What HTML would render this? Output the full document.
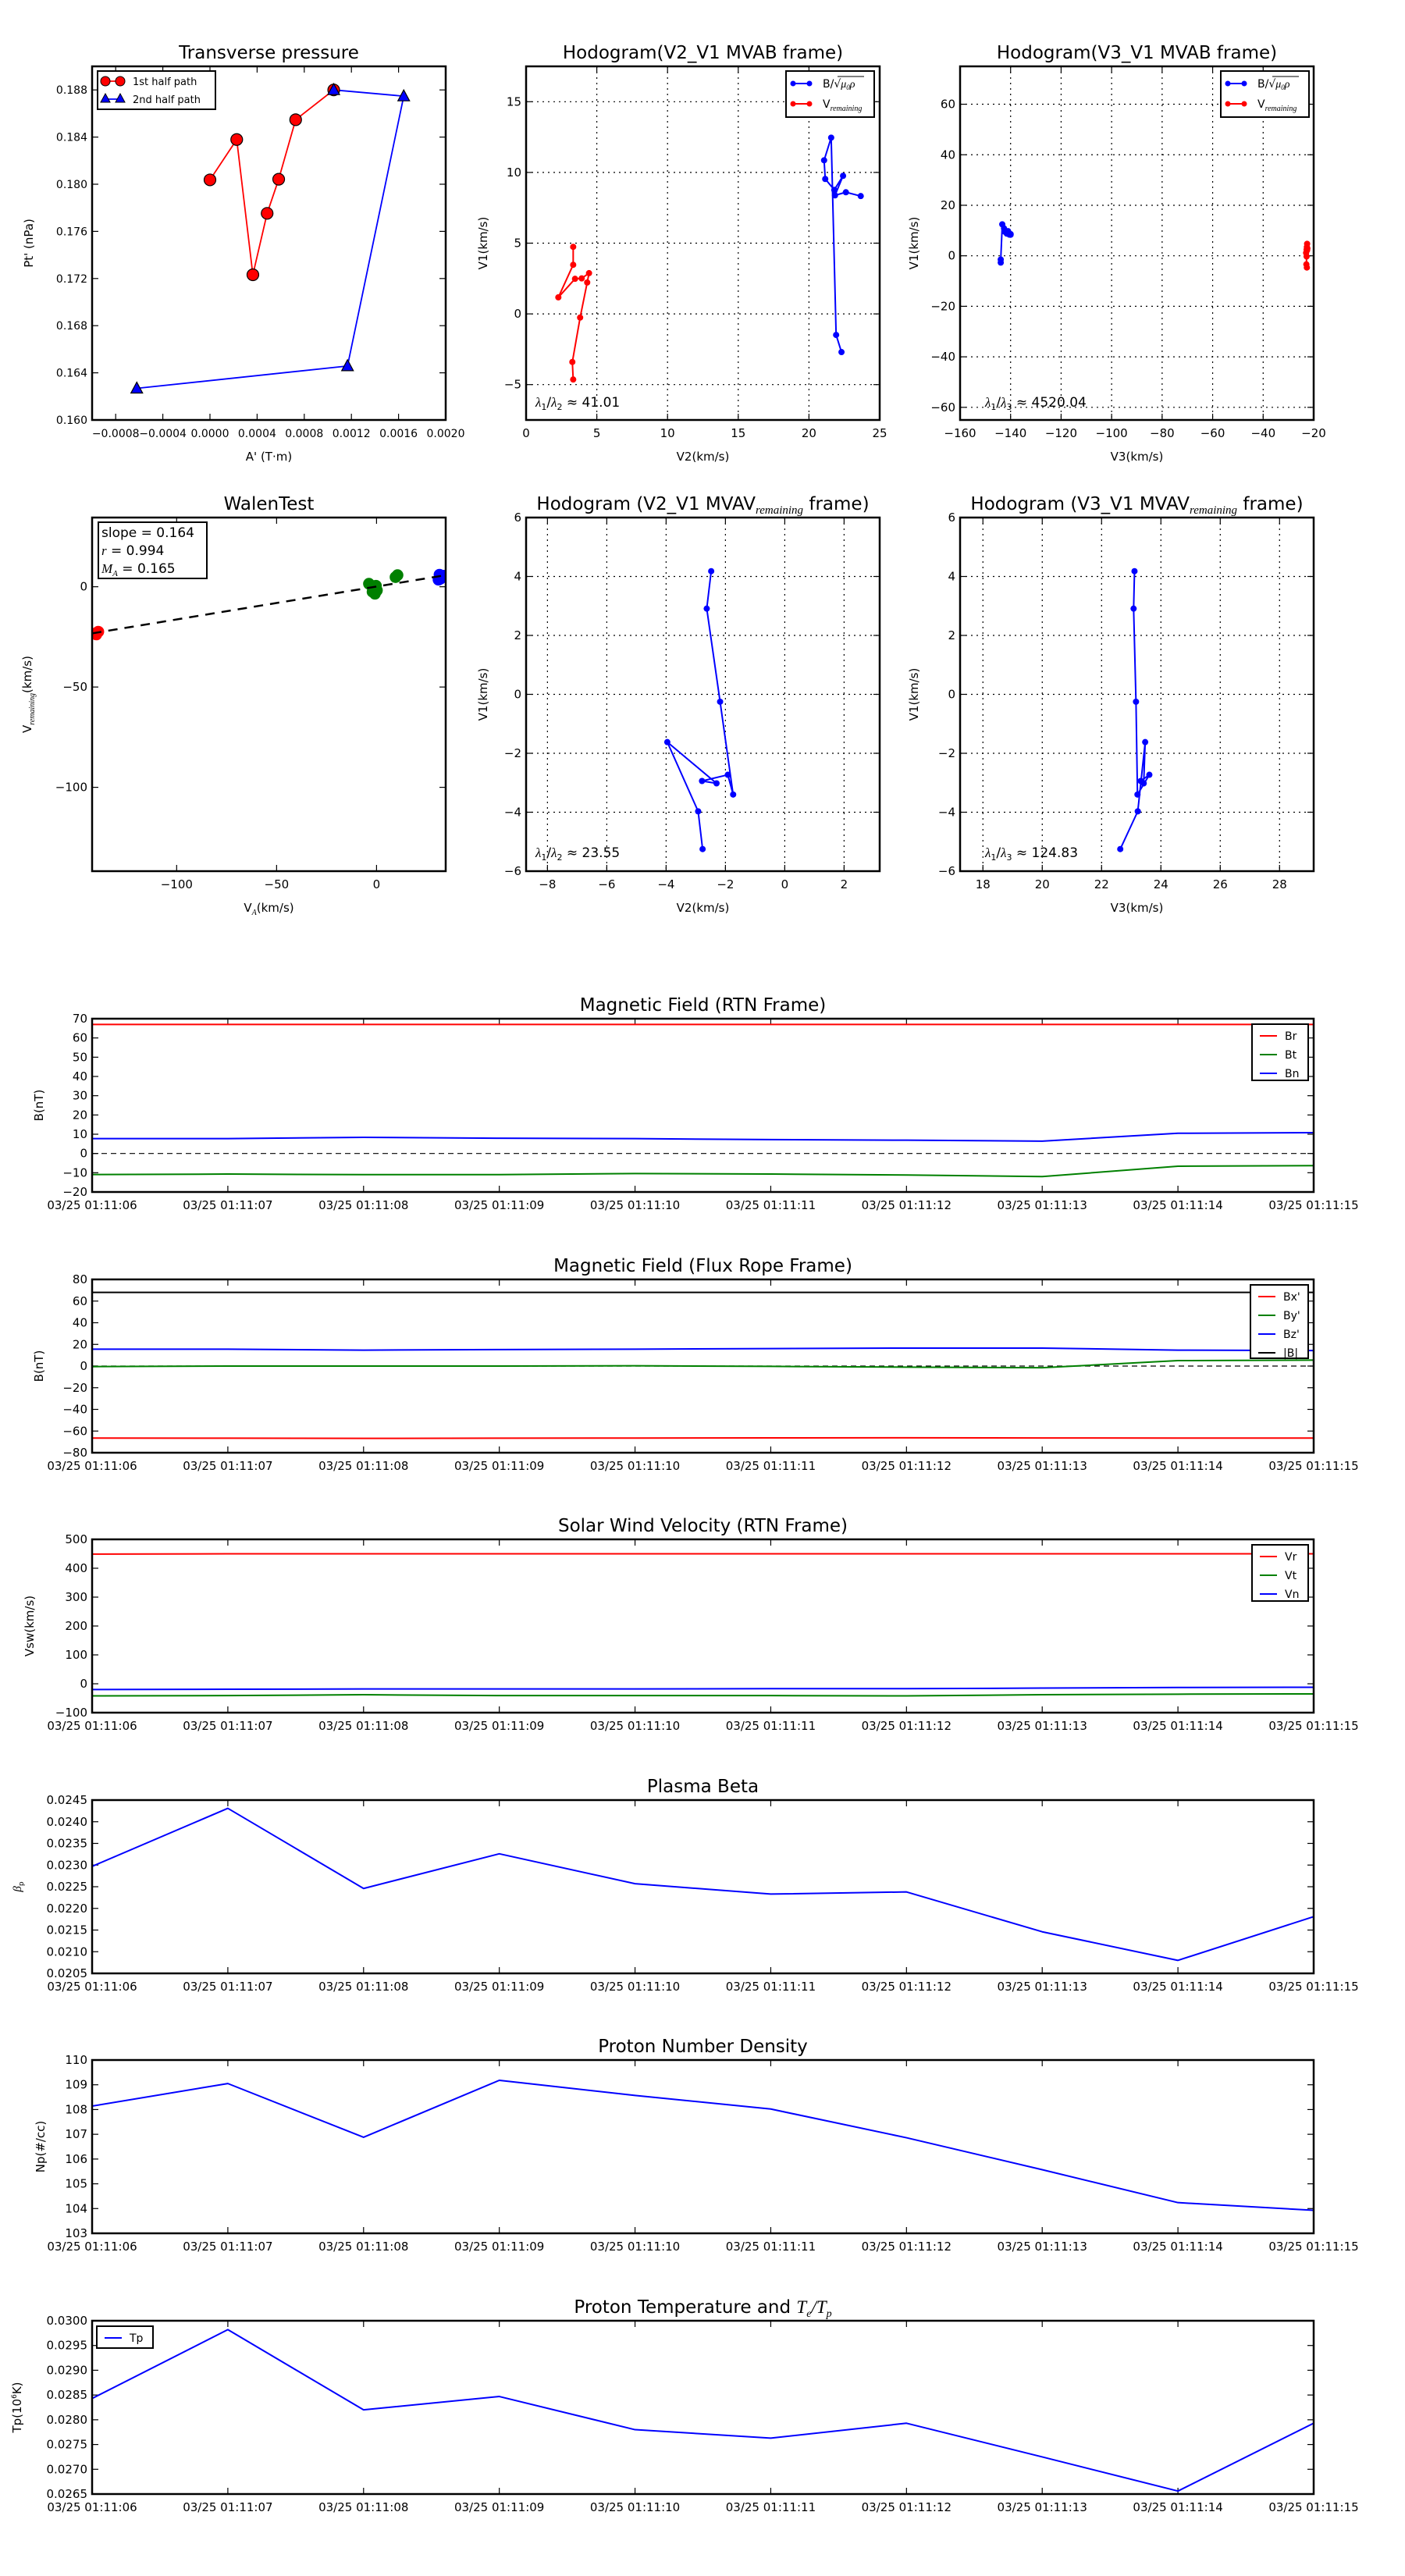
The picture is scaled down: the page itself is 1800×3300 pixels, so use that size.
<!DOCTYPE html>
<html><head><meta charset="utf-8"><title>Flux rope analysis</title>
<style>
html,body{margin:0;padding:0;background:#fff;}
svg{display:block;font-family:"DejaVu Sans","Liberation Sans",sans-serif;}
</style></head>
<body>
<svg id="fig" width="1800" height="3300" viewBox="0 0 1800 3300" xmlns="http://www.w3.org/2000/svg"></svg>
<script>
// ---------- DATA ----------
const ptRedA = [0, 0.000227, 0.000364, 0.000485, 0.000583, 0.000727, 0.00105];
const ptRedP = [0.18037, 0.18379, 0.17232, 0.17753, 0.18042, 0.18547, 0.18800];
const ptBlueA = [0.00105, 0.001644, 0.001167, -0.000621];
const ptBlueP = [0.18800, 0.18747, 0.16458, 0.16268];

const h1BV2 = [22.30, 21.92, 21.57, 21.07, 21.15, 21.79, 22.41, 21.84, 22.61, 23.66];
const h1BV1 = [-2.70, -1.49, 12.46, 10.86, 9.54, 8.77, 9.76, 8.38, 8.60, 8.33];
const h1RV2 = [3.33, 3.33, 2.28, 3.46, 3.93, 4.45, 4.32, 3.82, 3.27, 3.33];
const h1RV1 = [4.74, 3.47, 1.17, 2.48, 2.51, 2.88, 2.22, -0.26, -3.40, -4.64];

const h2BV3 = [-143.9, -143.9, -143.3, -142.6, -142.3, -141.5, -141.0, -140.5, -140.0, -140.0];
const h2RV3 = [-22.6, -22.7, -23.0, -22.8, -22.7, -22.5, -22.6, -22.8, -22.9, -22.7];

const walenRedX = [-139.8, -140.5, -139.2, -140.2];
const walenRedY = [-22.9, -23.2, -22.4, -23.8];
const walenGreenX = [-3.8, -2.5, -1.5, -0.8, -0.3, 0.2, -2.0, 9.5, 10.5];
const walenGreenY = [1.5, 0.5, -1.5, -3.5, 0.5, -1.8, -2.5, 4.8, 5.8];
const walenBlueX = [31, 31.5, 32.5, 33.5, 32];
const walenBlueY = [3.5, 6, 5, 5.5, 4];
const walenSlope = 0.164, walenIntercept = 0.1;

const h3V2 = [-2.48, -2.63, -2.18, -1.74, -1.92, -2.79, -2.30, -3.96, -2.92, -2.77];
const h3V1 = [4.18, 2.91, -0.25, -3.40, -2.73, -2.94, -3.02, -1.62, -3.97, -5.25];
const h4V3 = [23.11, 23.08, 23.16, 23.21, 23.61, 23.32, 23.42, 23.47, 23.22, 22.63];

const timeLabels = ["03/25 01:11:06","03/25 01:11:07","03/25 01:11:08","03/25 01:11:09","03/25 01:11:10","03/25 01:11:11","03/25 01:11:12","03/25 01:11:13","03/25 01:11:14","03/25 01:11:15"];
const Br = [67, 67, 67, 67, 67, 67, 67, 67, 67, 67];
const Bt = [-10.95, -10.7, -11, -11, -10.4, -10.7, -11.2, -12, -6.6, -6.3];
const Bn = [7.7, 7.7, 8.4, 7.9, 7.7, 7.2, 6.9, 6.4, 10.5, 10.8];
const Bx = [-66.5, -66.6, -66.8, -66.6, -66.5, -66.3, -66.2, -66.4, -66.5, -66.5];
const By = [-0.5, 0, 0, 0, 0.3, -0.3, -1, -1.5, 5, 5.5];
const Bz = [15.6, 15.6, 14.7, 15.2, 15.6, 16.1, 16.6, 16.6, 14.7, 14.3];
const Bmag = [68, 68, 68, 68, 68, 68, 68, 68, 68, 68];
const Vr = [449, 450, 450, 450, 450, 450, 450, 450, 450, 450];
const Vt = [-42, -41, -38, -41, -41, -41, -42, -38, -36, -35];
const Vn = [-20, -19, -18, -18, -18, -17, -17, -15, -13, -12];
const beta = [0.02297, 0.02431, 0.02246, 0.02326, 0.02257, 0.02233, 0.02238, 0.02146, 0.02080, 0.02181];
const Np = [108.14, 109.05, 106.88, 109.18, 108.57, 108.02, 106.86, 105.57, 104.24, 103.93];
const Tp = [0.02843, 0.02982, 0.02820, 0.02847, 0.02780, 0.02763, 0.02793, 0.02725, 0.02656, 0.02793];

// ---------- HELPERS ----------
const NS = 'http://www.w3.org/2000/svg';
const svg = document.getElementById('fig');
const TICK_FS = 15;
function mk(tag, attrs, parent) {
  const e = document.createElementNS(NS, tag);
  for (const k in attrs) e.setAttribute(k, attrs[k]);
  (parent || svg).appendChild(e);
  return e;
}
function fmt(v, d) { const s = Math.abs(v) < 1e-12 ? (0).toFixed(d) : v.toFixed(d); return s.replace('-', '\u2212'); }
function range(a, b, s) { const r = []; for (let v = a; v <= b + s * 1e-6; v += s) r.push(Math.round(v / s) * s); return r; }

function makeAxes(name, L, T, W, H, xmin, xmax, ymin, ymax) {
  const g = mk('g', {});
  
  
  const ax = { g, L, T, W, H,
    sx: v => L + (v - xmin) / (xmax - xmin) * W,
    sy: v => T + H - (v - ymin) / (ymax - ymin) * H };
  return ax;
}
function drawTicks(ax, xt, xl, yt, yl, grid, fs) {
  fs = fs || TICK_FS;
  const g = ax.g;
  xt.forEach((v, i) => {
    const x = ax.sx(v);
    if (x < ax.L - 0.5 || x > ax.L + ax.W + 0.5) return;
    if (grid) mk('line', {x1: x, x2: x, y1: ax.T, y2: ax.T + ax.H, stroke: '#000', 'stroke-width': 1.2, 'stroke-dasharray': '2,5'}, g);
    mk('line', {x1: x, x2: x, y1: ax.T + ax.H, y2: ax.T + ax.H - 8, stroke: '#000', 'stroke-width': 1.2}, g);
    mk('line', {x1: x, x2: x, y1: ax.T, y2: ax.T + 8, stroke: '#000', 'stroke-width': 1.2}, g);
    const t = mk('text', {x: x, y: ax.T + ax.H + 22, 'text-anchor': 'middle', 'font-size': fs}, g);
    
    
    t.textContent = xl[i];
  });
  yt.forEach((v, i) => {
    const y = ax.sy(v);
    if (y < ax.T - 0.5 || y > ax.T + ax.H + 0.5) return;
    if (grid) mk('line', {x1: ax.L, x2: ax.L + ax.W, y1: y, y2: y, stroke: '#000', 'stroke-width': 1.2, 'stroke-dasharray': '2,5'}, g);
    mk('line', {x1: ax.L, x2: ax.L + 8, y1: y, y2: y, stroke: '#000', 'stroke-width': 1.2}, g);
    mk('line', {x1: ax.L + ax.W, x2: ax.L + ax.W - 8, y1: y, y2: y, stroke: '#000', 'stroke-width': 1.2}, g);
    const t = mk('text', {x: ax.L - 6, y: y + 5, 'text-anchor': 'end', 'font-size': fs}, g);
    
    
    t.textContent = yl[i];
  });
}
function frame(ax) {
  const r = mk('rect', {x: ax.L, y: ax.T, width: ax.W, height: ax.H, fill: 'none', stroke: '#000', 'stroke-width': 2.5}, ax.g);
  
  
}
function title(ax, txt) {
  const t = mk('text', {x: ax.L + ax.W / 2, y: ax.T - 10, 'text-anchor': 'middle', 'font-size': 23}, ax.g);
  
  
  t.innerHTML = txt;
  return t;
}
function ylabel(ax, x, txt) {
  const cy = ax.T + ax.H / 2;
  const t = mk('text', {x: x, y: cy, 'text-anchor': 'middle', 'font-size': 15, transform: `rotate(-90 ${x} ${cy})`}, ax.g);
  
  
  t.innerHTML = txt;
}
function xlabel(ax, txt) {
  const t = mk('text', {x: ax.L + ax.W / 2, y: ax.T + ax.H + 52, 'text-anchor': 'middle', 'font-size': 15}, ax.g);
  
  
  t.innerHTML = txt;
}
function clip(ax, id) {
  const cp = mk('clipPath', {id: id}, ax.g);
  mk('rect', {x: ax.L, y: ax.T, width: ax.W, height: ax.H}, cp);
  return mk('g', {'clip-path': `url(#${id})`}, ax.g);
}
function series(parent, ax, xs, ys, color, w, dash) {
  const d = xs.map((x, i) => (i ? 'L' : 'M') + ax.sx(x).toFixed(2) + ',' + ax.sy(ys[i]).toFixed(2)).join(' ');
  const p = mk('path', {d: d, fill: 'none', stroke: color, 'stroke-width': w || 2, 'stroke-linejoin': 'round'}, parent);
  if (dash) p.setAttribute('stroke-dasharray', dash);
  return p;
}
function dots(parent, ax, xs, ys, color, r, stroke) {
  xs.forEach((x, i) => {
    const c = mk('circle', {cx: ax.sx(x), cy: ax.sy(ys[i]), r: r, fill: color, stroke: stroke || color, 'stroke-width': stroke ? 1.2 : 0}, parent);
    
    
  });
}
function legendBox(parent, x, y, w, h) {
  return mk('rect', {x: x, y: y, width: w, height: h, fill: '#fff', stroke: '#000', 'stroke-width': 2}, parent);
}
const idx = [0,1,2,3,4,5,6,7,8,9];

// ---------- ROW 1 ----------
(function(){
  const ax = makeAxes('transverse-pressure-chart', 118, 85, 453, 453, -0.001, 0.002, 0.160, 0.190);
  const xt = range(-0.0008, 0.0020, 0.0004);
  const yt = range(0.160, 0.188, 0.004);
  drawTicks(ax, xt, xt.map(v => fmt(v, 4)), yt, yt.map(v => fmt(v, 3)), false, 14);
  const c = clip(ax, 'c1');
  const lr = series(c, ax, ptRedA, ptRedP, '#f00', 1.8);
  
  const lb = series(c, ax, ptBlueA, ptBlueP, '#00f', 1.8);
  
  dots(c, ax, ptRedA, ptRedP, '#f00', 7.5, '#000');
  ptBlueA.forEach((a, i) => {
    const x = ax.sx(a), y = ax.sy(ptBlueP[i]);
    const t = mk('polygon', {points: `${x},${y-8} ${x-7.5},${y+6} ${x+7.5},${y+6}`, fill: '#00f', stroke: '#000', 'stroke-width': 1.2}, c);
    
    
  });
  frame(ax);
  title(ax, 'Transverse pressure');
  ylabel(ax, 42, "Pt' (nPa)");
  xlabel(ax, "A' (T·m)");
  const lg = mk('g', {}, ax.g);
  
  
  legendBox(lg, 125, 91, 151, 49);
  mk('line', {x1: 134, x2: 155, y1: 104, y2: 104, stroke: '#f00', 'stroke-width': 1.8}, lg);
  mk('circle', {cx: 135, cy: 104, r: 6, fill: '#f00', stroke: '#000'}, lg);
  mk('circle', {cx: 154, cy: 104, r: 6, fill: '#f00', stroke: '#000'}, lg);
  const t1 = mk('text', {x: 170, y: 109, 'font-size': 13}, lg); t1.textContent = '1st half path';
  mk('line', {x1: 134, x2: 155, y1: 127, y2: 127, stroke: '#00f', 'stroke-width': 1.8}, lg);
  mk('polygon', {points: '135,120 129,131 141,131', fill: '#00f', stroke: '#000'}, lg);
  mk('polygon', {points: '154,120 148,131 160,131', fill: '#00f', stroke: '#000'}, lg);
  const t2 = mk('text', {x: 170, y: 132, 'font-size': 13}, lg); t2.textContent = '2nd half path';
})();

function hodoLegend(ax, x, y, w) {
  const lg = mk('g', {}, ax.g);
  
  
  legendBox(lg, x, y, w, 59);
  mk('line', {x1: x+8, x2: x+31, y1: y+16, y2: y+16, stroke: '#00f', 'stroke-width': 2}, lg);
  mk('circle', {cx: x+9, cy: y+16, r: 3.5, fill: '#00f'}, lg);
  mk('circle', {cx: x+30, cy: y+16, r: 3.5, fill: '#00f'}, lg);
  const t1 = mk('text', {x: x+47, y: y+21, 'font-size': 14}, lg);
  t1.innerHTML = 'B/√<tspan font-family="Liberation Serif" font-style="italic">μ<tspan font-size="9" dy="3">0</tspan><tspan dy="-3">ρ</tspan></tspan>';
  mk('line', {x1: x+66, x2: x+100, y1: y+7, y2: y+7, stroke: '#000', 'stroke-width': 1}, lg);
  mk('line', {x1: x+8, x2: x+31, y1: y+42, y2: y+42, stroke: '#f00', 'stroke-width': 2}, lg);
  mk('circle', {cx: x+9, cy: y+42, r: 3.5, fill: '#f00'}, lg);
  mk('circle', {cx: x+30, cy: y+42, r: 3.5, fill: '#f00'}, lg);
  const t2 = mk('text', {x: x+47, y: y+47, 'font-size': 14}, lg);
  t2.innerHTML = 'V<tspan font-family="Liberation Serif" font-style="italic" font-size="10" dy="4">remaining</tspan>';
}
function ratioText(ax, x, y, sub, val) {
  const t = mk('text', {x: x, y: y, 'font-size': 17}, ax.g);
  
  
  t.innerHTML = `<tspan font-family="Liberation Serif" font-style="italic">λ</tspan><tspan font-size="11" dy="4">1</tspan><tspan dy="-4">/</tspan><tspan font-family="Liberation Serif" font-style="italic">λ</tspan><tspan font-size="11" dy="4">${sub}</tspan><tspan dy="-4"> ≈ ${val}</tspan>`;
}

(function(){
  const ax = makeAxes('hodogram-v2-v1-mvab-chart', 674, 85, 453, 453, 0, 25, -7.5, 17.5);
  const xt = range(0, 25, 5), yt = range(-5, 15, 5);
  drawTicks(ax, xt, xt.map(v => fmt(v, 0)), yt, yt.map(v => fmt(v, 0)), true);
  const c = clip(ax, 'c2');
  const b = series(c, ax, h1BV2, h1BV1, '#00f', 2);
  
  dots(c, ax, h1BV2, h1BV1, '#00f', 4);
  const r = series(c, ax, h1RV2, h1RV1, '#f00', 2);
  
  dots(c, ax, h1RV2, h1RV1, '#f00', 4);
  frame(ax);
  title(ax, 'Hodogram(V2_V1 MVAB frame)');
  ylabel(ax, 624, 'V1(km/s)');
  xlabel(ax, 'V2(km/s)');
  hodoLegend(ax, 1007, 91, 113);
  ratioText(ax, 686, 521, '2', '41.01');
})();

(function(){
  const ax = makeAxes('hodogram-v3-v1-mvab-chart', 1230, 85, 453, 453, -160, -20, -65, 75);
  const xt = range(-160, -20, 20), yt = range(-60, 60, 20);
  drawTicks(ax, xt, xt.map(v => fmt(v, 0)), yt, yt.map(v => fmt(v, 0)), true);
  const c = clip(ax, 'c3');
  const b = series(c, ax, h2BV3, h1BV1, '#00f', 2);
  
  dots(c, ax, h2BV3, h1BV1, '#00f', 4);
  const r = series(c, ax, h2RV3, h1RV1, '#f00', 2);
  
  dots(c, ax, h2RV3, h1RV1, '#f00', 4);
  frame(ax);
  title(ax, 'Hodogram(V3_V1 MVAB frame)');
  ylabel(ax, 1176, 'V1(km/s)');
  xlabel(ax, 'V3(km/s)');
  hodoLegend(ax, 1564, 91, 113);
  ratioText(ax, 1262, 521, '3', '4520.04');
})();

// ---------- ROW 2 ----------
(function(){
  const ax = makeAxes('walen-test-chart', 118, 663, 453, 453, -142.3, 34.6, -141.8, 34.5);
  const xt = [-100, -50, 0], yt = [-100, -50, 0];
  drawTicks(ax, xt, xt.map(v => fmt(v, 0)), yt, yt.map(v => fmt(v, 0)), false);
  const c = clip(ax, 'c4');
  dots(c, ax, walenRedX, walenRedY, '#f00', 7.5);
  dots(c, ax, walenGreenX, walenGreenY, '#008000', 7.5);
  dots(c, ax, walenBlueX, walenBlueY, '#00f', 7.5);
  const fx = [-142.3, 34.6];
  const fy = fx.map(v => walenSlope * v + walenIntercept);
  const f = series(c, ax, fx, fy, '#000', 2.5, '12,9');
  
  frame(ax);
  title(ax, 'WalenTest');
  ylabel(ax, 40, 'V<tspan font-family="Liberation Serif" font-style="italic" font-size="10" dy="4">remaining</tspan><tspan dy="-4">(km/s)</tspan>');
  xlabel(ax, 'V<tspan font-family="Liberation Serif" font-style="italic" font-size="10" dy="4">A</tspan><tspan dy="-4">(km/s)</tspan>');
  const lg = mk('g', {}, ax.g);
  
  
  legendBox(lg, 126, 669, 139, 72);
  const a = mk('text', {x: 130, y: 688, 'font-size': 17}, lg); a.textContent = 'slope = 0.164';
  const b = mk('text', {x: 130, y: 711, 'font-size': 17}, lg); b.innerHTML = '<tspan font-family="Liberation Serif" font-style="italic">r</tspan> = 0.994';
  const d = mk('text', {x: 130, y: 734, 'font-size': 17}, lg); d.innerHTML = '<tspan font-family="Liberation Serif" font-style="italic">M</tspan><tspan font-family="Liberation Serif" font-style="italic" font-size="11" dy="4">A</tspan><tspan dy="-4"> = 0.165</tspan>';
})();

(function(){
  const ax = makeAxes('hodogram-v2-v1-mvav-chart', 674, 663, 453, 453, -8.72, 3.2, -6, 6);
  const xt = range(-8, 2, 2), yt = range(-6, 6, 2);
  drawTicks(ax, xt, xt.map(v => fmt(v, 0)), yt, yt.map(v => fmt(v, 0)), true);
  const c = clip(ax, 'c5');
  const s = series(c, ax, h3V2, h3V1, '#00f', 2);
  
  dots(c, ax, h3V2, h3V1, '#00f', 4);
  frame(ax);
  title(ax, 'Hodogram (V2_V1 MVAV<tspan font-family="Liberation Serif" font-style="italic" font-size="15" dy="5">remaining</tspan><tspan dy="-5"> frame)</tspan>');
  ylabel(ax, 624, 'V1(km/s)');
  xlabel(ax, 'V2(km/s)');
  ratioText(ax, 686, 1098, '2', '23.55');
})();

(function(){
  const ax = makeAxes('hodogram-v3-v1-mvav-chart', 1230, 663, 453, 453, 17.23, 29.15, -6, 6);
  const xt = range(18, 28, 2), yt = range(-6, 6, 2);
  drawTicks(ax, xt, xt.map(v => fmt(v, 0)), yt, yt.map(v => fmt(v, 0)), true);
  const c = clip(ax, 'c6');
  const s = series(c, ax, h4V3, h3V1, '#00f', 2);
  
  dots(c, ax, h4V3, h3V1, '#00f', 4);
  frame(ax);
  title(ax, 'Hodogram (V3_V1 MVAV<tspan font-family="Liberation Serif" font-style="italic" font-size="15" dy="5">remaining</tspan><tspan dy="-5"> frame)</tspan>');
  ylabel(ax, 1176, 'V1(km/s)');
  xlabel(ax, 'V3(km/s)');
  ratioText(ax, 1262, 1098, '3', '124.83');
})();

// ---------- TIME SERIES ----------
function tsPanel(name, top, ymin, ymax, ystep, ydec, ttl, ylab, ylx, seriesList, legend, zeroLine) {
  const ax = makeAxes(name, 118, top, 1565, 222, 0, 9, ymin, ymax);
  const yt = range(ymin, ymax, ystep);
  drawTicks(ax, idx, timeLabels, yt, yt.map(v => fmt(v, ydec)), false);
  const c = clip(ax, 'c' + name);
  if (zeroLine) {
    const z = series(c, ax, [0, 9], [0, 0], '#000', 1.2, '7,5');
    
  }
  seriesList.forEach(s => {
    const p = series(c, ax, idx, s.v, s.c, 2);
    
    
  });
  frame(ax);
  title(ax, ttl);
  ylabel(ax, ylx, ylab);
  if (legend) {
    const lg = mk('g', {}, ax.g);
    
    
    legendBox(lg, legend.x, legend.y, legend.w, legend.h);
    seriesList.forEach((s, i) => {
      const y = legend.y + 15 + i * 24;
      mk('line', {x1: legend.x + 10, x2: legend.x + 32, y1: y, y2: y, stroke: s.c, 'stroke-width': 2}, lg);
      const t = mk('text', {x: legend.x + 42, y: y + 5, 'font-size': 14}, lg);
      t.textContent = s.label;
    });
  }
}

tsPanel('magnetic-field-rtn-chart', 1305, -20, 70, 10, 0, 'Magnetic Field (RTN Frame)', 'B(nT)', 55,
  [{v: Br, c: '#f00', n: 'br-line', label: 'Br'}, {v: Bt, c: '#008000', n: 'bt-line', label: 'Bt'}, {v: Bn, c: '#00f', n: 'bn-line', label: 'Bn'}],
  {x: 1604, y: 1312, w: 72, h: 72}, true);
tsPanel('magnetic-field-flux-rope-chart', 1639, -80, 80, 20, 0, 'Magnetic Field (Flux Rope Frame)', 'B(nT)', 55,
  [{v: Bx, c: '#f00', n: 'bx-line', label: "Bx'"}, {v: By, c: '#008000', n: 'by-line', label: "By'"}, {v: Bz, c: '#00f', n: 'bz-line', label: "Bz'"}, {v: Bmag, c: '#000', n: 'bmag-line', label: '|B|'}],
  {x: 1602, y: 1646, w: 74, h: 94}, true);
tsPanel('solar-wind-velocity-chart', 1972, -100, 500, 100, 0, 'Solar Wind Velocity (RTN Frame)', 'Vsw(km/s)', 43,
  [{v: Vr, c: '#f00', n: 'vr-line', label: 'Vr'}, {v: Vt, c: '#008000', n: 'vt-line', label: 'Vt'}, {v: Vn, c: '#00f', n: 'vn-line', label: 'Vn'}],
  {x: 1604, y: 1979, w: 72, h: 72}, false);
tsPanel('plasma-beta-chart', 2306, 0.0205, 0.0245, 0.0005, 4, 'Plasma Beta',
  '<tspan font-family="Liberation Serif" font-style="italic">β</tspan><tspan font-size="9" dy="3">p</tspan>', 27,
  [{v: beta, c: '#00f', n: 'beta-line', label: 'beta'}], null, false);
tsPanel('proton-density-chart', 2639, 103, 110, 1, 0, 'Proton Number Density', 'Np(#/cc)', 57,
  [{v: Np, c: '#00f', n: 'np-line', label: 'Np'}], null, false);
tsPanel('proton-temperature-chart', 2973, 0.0265, 0.0300, 0.0005, 4,
  'Proton Temperature and <tspan font-family="Liberation Serif" font-style="italic">T</tspan><tspan font-family="Liberation Serif" font-style="italic" font-size="14" dy="5">e</tspan><tspan dy="-5" font-family="Liberation Serif" font-style="italic">/T</tspan><tspan font-family="Liberation Serif" font-style="italic" font-size="14" dy="5">p</tspan>',
  'Tp(10<tspan font-size="9" dy="-6">6</tspan><tspan dy="6">K)</tspan>', 27,
  [{v: Tp, c: '#00f', n: 'tp-line', label: 'Tp'}], {x: 124, y: 2980, w: 72, h: 28}, false);
</script>
</body></html>
